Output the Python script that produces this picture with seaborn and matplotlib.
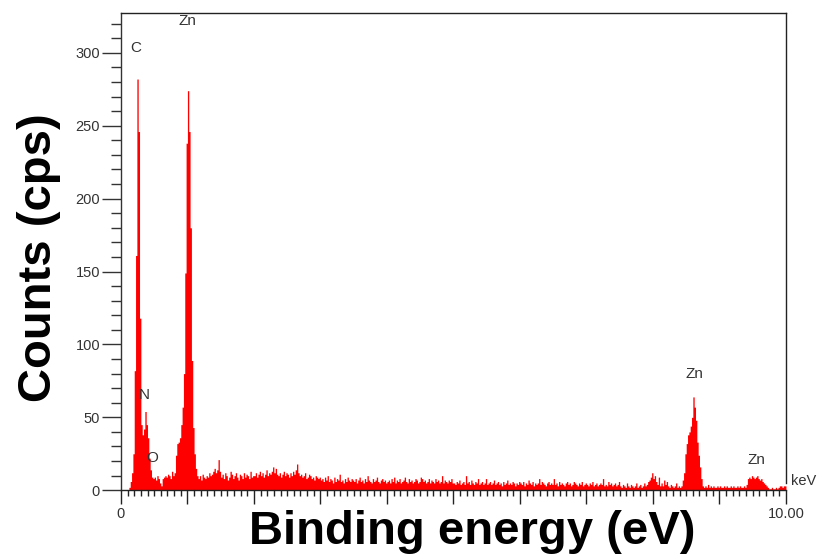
import numpy as np
import pandas as pd
import matplotlib
matplotlib.use('Agg')
import matplotlib.pyplot as plt
from matplotlib.ticker import MultipleLocator
import seaborn as sns

# EDS spectrum, 0.02 keV channels, counts (25 channels = 0.5 keV per row)
bin_width = 0.02
counts = [
    0, 0, 0, 0, 0, 0, 2, 6, 12, 25, 82, 161, 282, 246, 118, 45, 38, 42, 54, 45, 36, 22, 14, 9, 8,
    9, 7, 10, 8, 5, 3, 8, 9, 10, 9, 11, 10, 8, 13, 10, 12, 24, 32, 33, 36, 45, 57, 80, 149, 238,
    274, 246, 180, 89, 43, 25, 15, 10, 8, 10, 7, 11, 9, 8, 10, 9, 12, 10, 11, 13, 15, 12, 14, 21, 13,
    9, 11, 8, 12, 10, 7, 9, 13, 11, 8, 10, 12, 9, 7, 11, 10, 8, 12, 9, 11, 10, 8, 13, 9, 10,
    10, 12, 9, 11, 13, 10, 12, 9, 11, 14, 10, 12, 11, 13, 16, 12, 15, 11, 10, 12, 9, 11, 13, 10, 12,
    11, 9, 12, 10, 13, 11, 14, 18, 12, 10, 11, 9, 10, 12, 8, 9, 11, 10, 8, 9, 7, 10, 9, 8, 9,
    7, 8, 6, 9, 7, 10, 6, 8, 7, 5, 9, 6, 8, 7, 11, 6, 7, 5, 8, 6, 9, 7, 6, 8, 7,
    6, 8, 5, 7, 9, 6, 7, 5, 8, 6, 10, 7, 6, 5, 8, 6, 7, 9, 6, 5, 7, 8, 6, 7, 5,
    6, 7, 5, 8, 6, 9, 5, 7, 6, 8, 5, 6, 7, 9, 6, 5, 8, 6, 7, 5, 6, 8, 7, 5, 6,
    9, 8, 6, 7, 5, 6, 8, 5, 7, 6, 5, 8, 6, 7, 5, 6, 10, 5, 7, 6, 5, 7, 6, 8, 5,
    5, 4, 6, 5, 7, 4, 5, 6, 4, 10, 5, 6, 4, 7, 5, 4, 6, 5, 8, 4, 5, 6, 4, 5, 8,
    4, 5, 6, 4, 5, 7, 4, 5, 6, 4, 5, 3, 6, 4, 5, 7, 4, 5, 4, 6, 5, 3, 5, 4, 6,
    5, 4, 6, 3, 5, 4, 7, 5, 4, 6, 3, 5, 4, 5, 8, 4, 6, 5, 4, 3, 5, 6, 4, 5, 4,
    8, 4, 5, 3, 6, 4, 5, 4, 3, 5, 6, 4, 5, 3, 4, 6, 5, 4, 3, 5, 4, 6, 3, 4, 5,
    4, 3, 5, 4, 6, 3, 4, 5, 3, 4, 5, 4, 8, 3, 4, 3, 6, 4, 5, 3, 4, 5, 3, 4, 6,
    3, 2, 4, 3, 2, 5, 3, 2, 4, 3, 2, 3, 5, 2, 3, 4, 2, 3, 5, 3, 4, 6, 7, 9, 12,
    8, 10, 6, 4, 9, 3, 5, 3, 7, 4, 6, 3, 2, 4, 3, 2, 3, 5, 2, 3, 2, 3, 7, 12, 25,
    32, 38, 40, 44, 50, 64, 57, 48, 33, 24, 16, 8, 3, 2, 3, 2, 4, 2, 3, 2, 3, 2, 2, 3, 2,
    3, 2, 2, 3, 2, 3, 2, 2, 3, 2, 3, 2, 2, 3, 2, 3, 2, 2, 3, 2, 4, 8, 9, 8, 10,
    9, 8, 9, 10, 8, 7, 8, 6, 5, 4, 3, 2, 1, 1, 2, 1, 1, 2, 1, 2, 3, 3, 2, 3, 3,
]
channel_kev = np.arange(len(counts)) * bin_width + bin_width / 2

peak_labels = ['C', 'Zn', 'N', 'O', 'Zn', 'Zn']
peak_x = [0.23, 1.0, 0.35, 0.47, 8.62, 9.55]
peak_y = [303, 322, 65, 22, 80, 21]

df = pd.DataFrame({'energy': channel_kev, 'counts': counts})

sns.set_style('white')
plt.rcParams['font.family'] = ['Liberation Sans', 'DejaVu Sans']

fig = plt.figure(figsize=(8.17, 5.59), dpi=100)
ax = fig.add_axes([0.148, 0.123, 0.814, 0.853])

sns.histplot(data=df, x='energy', weights='counts', binwidth=bin_width,
             binrange=(0, len(counts) * bin_width), element='step',
             fill=True, color='#ff0000', alpha=1, linewidth=0, ax=ax)

ax.set_xlim(0, 10)
ax.set_ylim(0, 327)
ax.set_xlabel('')
ax.set_ylabel('')

ax.set_yticks(range(0, 301, 50))
ax.yaxis.set_minor_locator(MultipleLocator(10))
ax.set_xticks(range(0, 11))
ax.set_xticklabels(['0'] + [''] * 9 + ['10.00'])
ax.xaxis.set_minor_locator(MultipleLocator(0.1))
ax.tick_params(axis='y', which='major', direction='out', length=14, width=1,
               color='#333333', labelsize=10.5, labelcolor='#333333', pad=1, left=True)
ax.tick_params(axis='y', which='minor', direction='out', length=7, width=1,
               color='#333333', left=True)
ax.tick_params(axis='x', which='major', direction='out', length=10, width=1,
               color='#222222', labelsize=10.5, labelcolor='#333333', pad=2, bottom=True)
ax.tick_params(axis='x', which='minor', direction='out', length=4, width=1,
               color='#222222', bottom=True)

for side in ['left', 'bottom', 'top', 'right']:
    ax.spines[side].set_visible(True)
    ax.spines[side].set_linewidth(1)
ax.spines['left'].set_color('#333333')
ax.spines['bottom'].set_color('#222222')
ax.spines['top'].set_color('#222222')
ax.spines['right'].set_color('#222222')
ax.spines['right'].set_bounds(5, 327)

for lab, x, y in zip(peak_labels, peak_x, peak_y):
    ax.text(x, y, lab, ha='center', va='center', fontsize=11, color='#333333')
ax.text(10.07, 6, 'keV', ha='left', va='center', fontsize=10.5, color='#333333', clip_on=False)

fig.text(0.048, 0.54, 'Counts (cps)', rotation=90, ha='center', va='center',
         fontsize=34, fontweight='bold', color='black')
fig.text(0.578, 0.048, 'Binding energy (eV)', ha='center', va='center',
         fontsize=34, fontweight='bold', color='black')

plt.savefig('out.png', dpi=100)
